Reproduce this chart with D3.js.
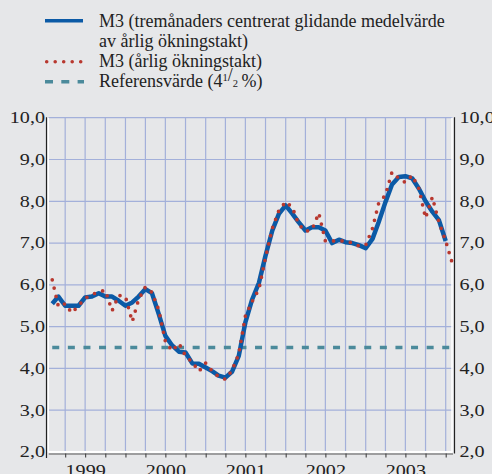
<!DOCTYPE html>
<html>
<head>
<meta charset="utf-8">
<script src="https://cdn.jsdelivr.net/npm/d3@7/dist/d3.min.js"></script>
<style>
    html, body { margin: 0; padding: 0; background: #e6e7e9; }
    svg { display: block; font-family: "Liberation Serif", "Times New Roman", serif; }
</style>
</head>
<body>
<div id="chart"></div>
<script>
// M3, årlig ökningstakt (procent), jan 1999 - jan 2004
const m3Annual = [
    6.12, 5.48, 5.55, 5.33, 5.50, 5.68, 5.77, 5.83, 5.87, 5.38, 5.75, 5.72,
    5.12, 5.65, 5.95, 5.82, 5.40, 4.65, 4.42, 4.60, 4.30, 4.15, 3.93, 4.13,
    3.93, 3.80, 3.74, 3.95, 4.35, 5.25, 5.60, 5.90, 6.65, 7.35, 7.78, 7.99,
    7.85, 7.45, 7.28, 7.32, 7.72, 7.05, 7.05, 7.05, 7.05, 7.00, 6.93, 6.95,
    7.35, 7.95, 8.15, 8.70, 8.55, 8.45, 8.62, 8.30, 7.60, 8.10, 7.50, 7.05,
    6.50
];
// tremånaders centrerat glidande medelvärde, jan 1999 - dec 2003
const m3Average = [
    5.55, 5.72, 5.50, 5.50, 5.50, 5.70, 5.72, 5.80, 5.72, 5.72, 5.62, 5.50,
    5.58, 5.72, 5.90, 5.80, 5.30, 4.78, 4.55, 4.40, 4.38, 4.12, 4.11, 4.02,
    3.93, 3.83, 3.78, 3.92, 4.30, 5.10, 5.65, 6.05, 6.70, 7.30, 7.70, 7.90,
    7.70, 7.50, 7.30, 7.38, 7.38, 7.30, 7.00, 7.08, 7.02, 7.00, 6.95, 6.88,
    7.10, 7.50, 7.98, 8.40, 8.58, 8.60, 8.55, 8.30, 8.00, 7.75, 7.55, 7.05
];
const referenceValue = 4.5;
const yTicks = [2, 3, 4, 5, 6, 7, 8, 9, 10];
const years = [1999, 2000, 2001, 2002, 2003];
const legendLines = [
    'M3 (tremånaders centrerat glidande medelvärde',
    'av årlig ökningstakt)',
    'M3 (årlig ökningstakt)'
];

const width = 492, height = 474;
const plotLeft = 48.3, plotRight = 452.5, plotTop = 117.7, plotBottom = 452;
const fontSize = 17.5;
const stretch = 'scale(1.15,1)';   // axelsiffrorna är bredare än Liberation Serif

const monthDate = i => new Date(1999, i + 1, 1);   // värdet ritas vid månadens slut

const x = d3.scaleTime()
    .domain([new Date(1999, 0, 14), new Date(2004, 1, 1)])
    .range([plotLeft, plotRight]);
const y = d3.scaleLinear().domain([2, 10]).range([plotBottom, plotTop]);

const comma = d3.formatLocale({ decimal: ',', thousands: ' ', grouping: [3], currency: ['', ''] }).format('.1f');
const quarters = d3.timeMonth.every(3).range(new Date(1999, 3, 1), new Date(2004, 1, 2));

const svg = d3.select('#chart').append('svg')
    .attr('width', width)
    .attr('height', height);

// rutnät
const grid = svg.append('g').attr('stroke', '#a3b0da').attr('stroke-width', 1.2);
grid.selectAll('line.h')
    .data(yTicks.slice(1))
    .enter().append('line')
    .attr('x1', plotLeft).attr('x2', plotRight)
    .attr('y1', d => y(d)).attr('y2', d => y(d));
grid.selectAll('line.v')
    .data(quarters)
    .enter().append('line')
    .attr('x1', d => x(d)).attr('x2', d => x(d))
    .attr('y1', plotTop).attr('y2', plotBottom);

// ramar
svg.append('line').attr('x1', plotLeft).attr('x2', plotLeft).attr('y1', plotTop).attr('y2', plotBottom)
    .attr('stroke', '#fff').attr('stroke-width', 1.5);
svg.append('line').attr('x1', plotRight - 0.5).attr('x2', plotRight - 0.5).attr('y1', plotTop).attr('y2', plotBottom)
    .attr('stroke', '#fff').attr('stroke-width', 1.5);
svg.append('line').attr('x1', 46.5).attr('x2', 46.5).attr('y1', plotTop - 0.5).attr('y2', 458)
    .attr('stroke', '#222').attr('stroke-width', 1.2);
svg.append('line').attr('x1', 454.5).attr('x2', 454.5).attr('y1', plotTop - 0.5).attr('y2', 453.5)
    .attr('stroke', '#222').attr('stroke-width', 1.2);

// x-axel
const xAxis = svg.append('g')
    .attr('transform', `translate(0,${plotBottom + 1.5})`)
    .call(d3.axisBottom(x).tickValues(quarters).tickSize(4).tickSizeOuter(0).tickFormat(''));
xAxis.select('.domain').attr('stroke', '#555').attr('stroke-width', 1);
xAxis.selectAll('.tick line').attr('stroke', '#444').attr('stroke-width', 1.1);
svg.append('line').attr('x1', plotLeft).attr('x2', plotRight).attr('y1', plotBottom).attr('y2', plotBottom)
    .attr('stroke', '#fff').attr('stroke-width', 2);

const yearAxis = svg.append('g')
    .attr('transform', `translate(0,${plotBottom})`)
    .call(d3.axisBottom(x)
        .tickValues(years.map(d => new Date(d, 6, 1)))
        .tickSize(0)
        .tickFormat(d3.timeFormat('%Y')));
yearAxis.select('.domain').remove();
yearAxis.selectAll('text')
    .attr('y', 24.5).attr('dy', null)
    .attr('transform', stretch)
    .attr('font-family', '"Liberation Serif", serif').attr('font-size', fontSize).attr('fill', '#222');

// y-axlar
[[d3.axisLeft(y), 45], [d3.axisRight(y), 459.5]].forEach(([axis, pos]) => {
    const g = svg.append('g')
        .attr('transform', `translate(${pos},0)`)
        .call(axis.tickValues(yTicks).tickSize(0).tickPadding(0).tickFormat(comma));
    g.select('.domain').remove();
    g.selectAll('text')
        .attr('font-family', '"Liberation Serif", serif')
        .attr('font-size', fontSize)
        .attr('fill', '#222')
        .attr('transform', stretch)
        .attr('dy', '0.28em');
});

// referensvärde
svg.append('line')
    .attr('x1', x(monthDate(0))).attr('x2', x(monthDate(59)) + 4)
    .attr('y1', y(referenceValue)).attr('y2', y(referenceValue))
    .attr('stroke', '#4b8a9b').attr('stroke-width', 3.4)
    .attr('stroke-dasharray', '7 8.6');

const line = d3.line()
    .x((d, i) => x(monthDate(i)))
    .y(d => y(d));

svg.append('path')
    .datum(m3Average)
    .attr('d', line)
    .attr('fill', 'none')
    .attr('stroke', '#0b5aa6')
    .attr('stroke-width', 4.5)
    .attr('stroke-linejoin', 'round');

svg.append('path')
    .datum(m3Annual)
    .attr('d', line)
    .attr('fill', 'none')
    .attr('stroke', '#b8382f')
    .attr('stroke-width', 3.7)
    .attr('stroke-linecap', 'round')
    .attr('stroke-dasharray', '0 8.5');

// förklaring
const legend = svg.append('g').attr('font-size', 18).attr('fill', '#222');
legend.append('line').attr('x1', 45).attr('x2', 83).attr('y1', 20.7).attr('y2', 20.7)
    .attr('stroke', '#0b5aa6').attr('stroke-width', 3.4);
legend.append('line').attr('x1', 46.7).attr('x2', 83).attr('y1', 61.7).attr('y2', 61.7)
    .attr('stroke', '#b8382f').attr('stroke-width', 3.6)
    .attr('stroke-linecap', 'round').attr('stroke-dasharray', '0 8.5');
legend.append('line').attr('x1', 45).attr('x2', 84).attr('y1', 81.7).attr('y2', 81.7)
    .attr('stroke', '#4b8a9b').attr('stroke-width', 3.4).attr('stroke-dasharray', '8 8.3');

const baselines = [27.3, 46.5, 66.7, 87.3];
legendLines.forEach((t, i) => {
    legend.append('text')
        .attr('x', 99).attr('y', baselines[i])
        .text(t);
});
const ref = legend.append('text').attr('x', 99).attr('y', baselines[3]);
ref.append('tspan').text('Referensvärde (4');
ref.append('tspan').attr('font-size', 10.5).attr('dy', -6.5).text('1');
ref.append('tspan').attr('dy', 0).text('/');
ref.append('tspan').attr('font-size', 10.5).attr('dy', 6.5).text('2');
ref.append('tspan').text('\u2009%)');
</script>
</body>
</html>
